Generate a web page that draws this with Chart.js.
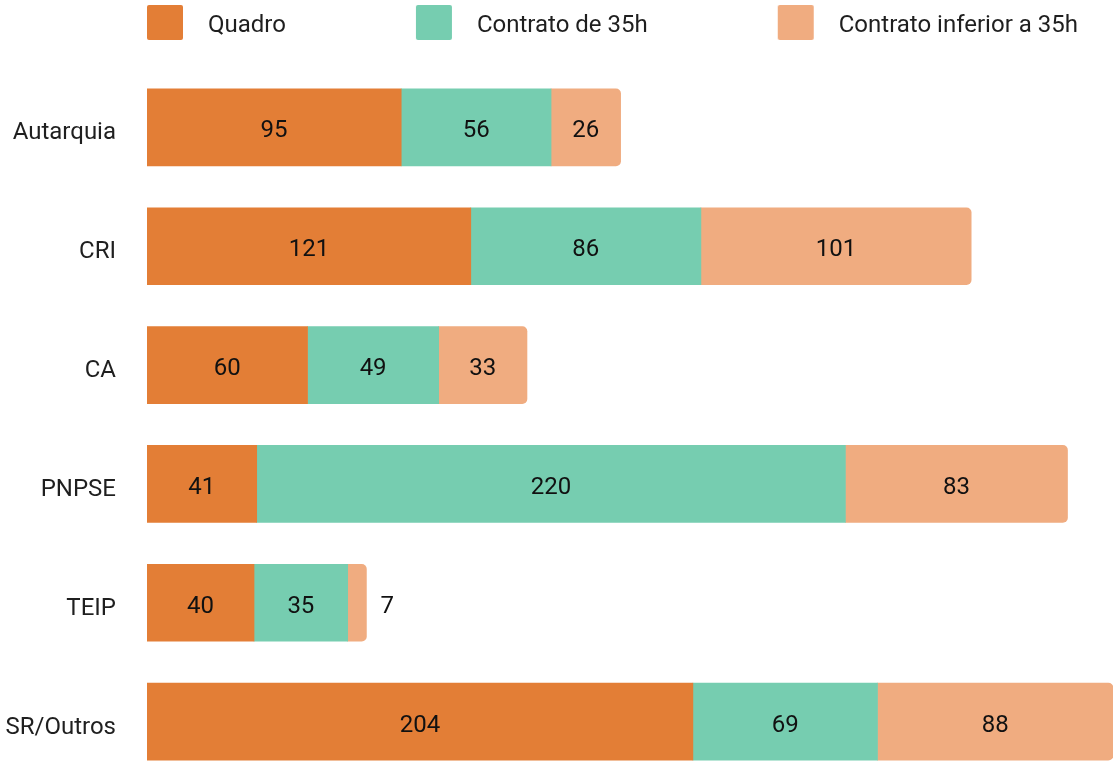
<!DOCTYPE html>
<html>
<head>
<meta charset="utf-8">
<script src="https://cdn.jsdelivr.net/npm/chart.js@4.4.1/dist/chart.umd.min.js"></script>
<style>
  html, body { margin: 0; padding: 0; background: #fff; overflow: hidden; width: 1113px; height: 761px; }
  #wrap { position: relative; width: 1113px; height: 781px; }
</style>
</head>
<body>
<div id="wrap"><canvas id="c"></canvas></div>
<script>
// ---- data ----
const categories = ['Autarquia', 'CRI', 'CA', 'PNPSE', 'TEIP', 'SR/Outros'];
const seriesNames = ['Quadro', 'Contrato de 35h', 'Contrato inferior a 35h'];
const quadro = [95, 121, 60, 41, 40, 204];
const contrato35h = [56, 86, 49, 220, 35, 69];
const contratoInferior35h = [26, 101, 33, 83, 7, 88];

// ---- styles ----
const colors = ['#E37E36', '#76CDB0', '#F0AC80'];
const textColor = '#1f1f1f';
const FONT_SIZE = 24;

Chart.defaults.font.family = 'Roboto, "Noto Sans", sans-serif';
Chart.defaults.font.size = FONT_SIZE;

const totals = categories.map((_, i) => quadro[i] + contrato35h[i] + contratoInferior35h[i]);
const xMax = Math.max(...totals);

// legend swatch images (visible box sits at the top-right part of the point-style area)
const SW_W = 165, SW_H = 42;
function legendSwatch(color) {
  const cv = document.createElement('canvas');
  cv.width = SW_W; cv.height = SW_H;
  const g = cv.getContext('2d');
  g.fillStyle = color;
  g.beginPath();
  if (g.roundRect) g.roundRect(SW_W - 49, 0, 36, 35, 2); else g.rect(SW_W - 49, 0, 36, 35);
  g.fill();
  return cv;
}
const swatches = colors.map(legendSwatch);

// shift legend start to line up with the plot area
const legendShift = {
  id: 'legendShift',
  afterLayout(chart) { if (chart.legend) chart.legend.left = 17; }
};

const valueLabels = {
  id: 'valueLabels',
  afterDatasetsDraw(chart) {
    const ctx = chart.ctx;
    ctx.save();
    ctx.font = FONT_SIZE + 'px Roboto, "Noto Sans", sans-serif';
    ctx.fillStyle = '#111';
    ctx.textBaseline = 'middle';
    chart.data.datasets.forEach((ds, di) => {
      const meta = chart.getDatasetMeta(di);
      if (meta.hidden) return;
      meta.data.forEach((bar, i) => {
        const txt = String(ds.data[i]);
        const tw = ctx.measureText(txt).width;
        const l = Math.min(bar.base, bar.x), r = Math.max(bar.base, bar.x);
        if (tw + 10 < r - l) {
          ctx.textAlign = 'center';
          ctx.fillText(txt, (l + r) / 2, bar.y + 4);
        } else {
          ctx.textAlign = 'left';
          ctx.fillText(txt, r + 14, bar.y + 4);
        }
      });
    });
    ctx.restore();
  }
};

const seriesData = [quadro, contrato35h, contratoInferior35h];

new Chart(document.getElementById('c'), {
  type: 'bar',
  data: {
    labels: categories,
    datasets: seriesNames.map((name, k) => ({
      label: name,
      data: seriesData[k],
      backgroundColor: colors[k],
      borderWidth: 0,
      borderRadius: 5,
      borderSkipped: 'start',
      barThickness: 77
    }))
  },
  options: {
    indexAxis: 'y',
    responsive: true,
    maintainAspectRatio: false,
    animation: false,
    layout: { padding: { left: 0, right: 0, top: 0, bottom: 0 } },
    scales: {
      x: {
        stacked: true, min: 0, max: xMax, position: 'top',
        ticks: { display: false },
        grid: { display: false, drawTicks: false },
        border: { display: false },
        afterFit(s) { s.height = 20; }
      },
      y: {
        stacked: true,
        grid: { display: false, drawTicks: false },
        border: { display: false },
        ticks: { padding: 31, labelOffset: 6, color: textColor, font: { size: FONT_SIZE } },
        afterFit(s) { s.width = 147; s.paddingTop = 0; s.paddingBottom = 0; }
      }
    },
    plugins: {
      tooltip: { enabled: false },
      legend: {
        position: 'top',
        align: 'start',
        labels: {
          usePointStyle: true,
          pointStyleWidth: SW_W,
          padding: 14,
          color: textColor,
          font: { size: FONT_SIZE },
          generateLabels(chart) {
            const items = Chart.defaults.plugins.legend.labels.generateLabels(chart);
            items.forEach((it, i) => { it.pointStyle = swatches[i]; });
            return items;
          }
        }
      }
    }
  },
  plugins: [valueLabels, legendShift]
});
</script>
</body>
</html>
